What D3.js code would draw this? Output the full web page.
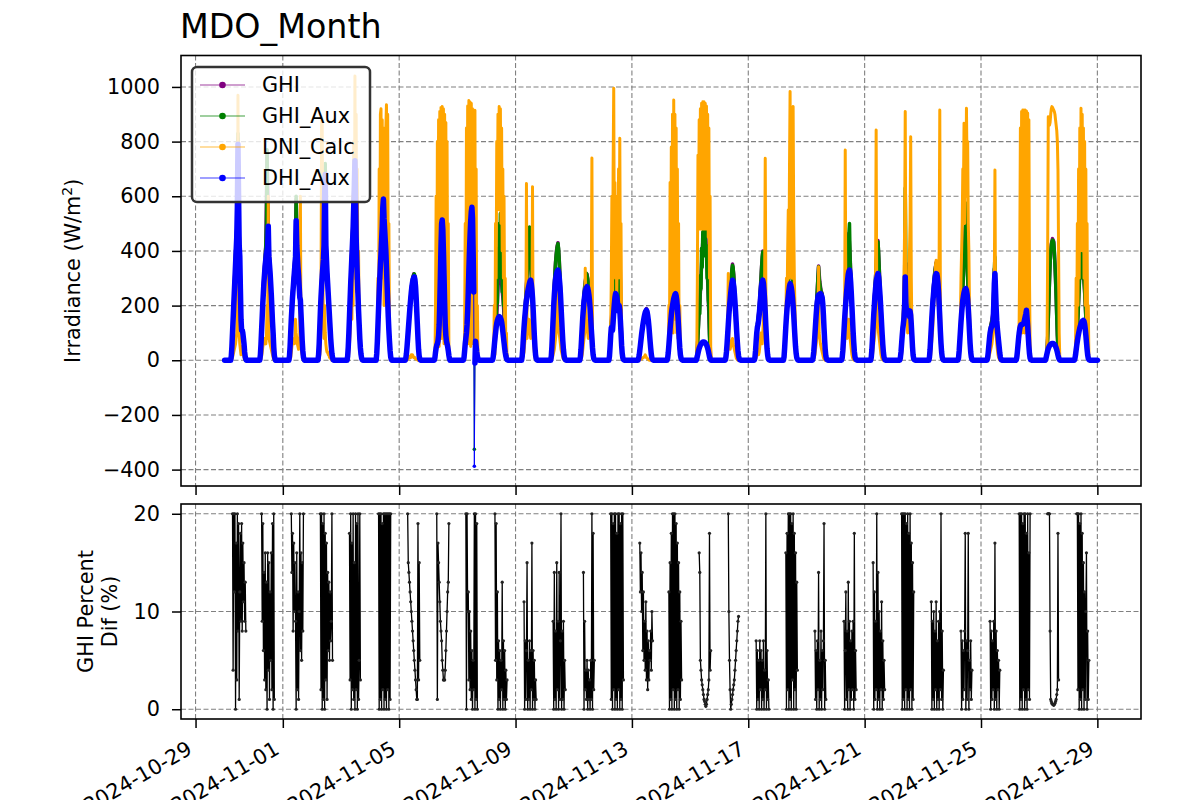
<!DOCTYPE html>
<meta charset="utf-8">
<script src="https://d3js.org/d3.v7.min.js"></script>
<style>
  body { margin: 0; background: #fff; }
  text { font-family: "DejaVu Sans", sans-serif; fill: #000; }
</style>
<div id="my_dataviz"></div>
<script>

// ---- data ----
const dayStarts = ["2024-10-30","2024-10-31","2024-11-01","2024-11-02","2024-11-03","2024-11-04","2024-11-05","2024-11-06","2024-11-07","2024-11-08",
  "2024-11-09","2024-11-10","2024-11-11","2024-11-12","2024-11-13","2024-11-14","2024-11-15","2024-11-16","2024-11-17","2024-11-18",
  "2024-11-19","2024-11-20","2024-11-21","2024-11-22","2024-11-23","2024-11-24","2024-11-25","2024-11-26","2024-11-27","2024-11-28"];
// sample hours (UTC) within each day
const halfHours = [5,5.5,6,6.5,7,7.5,8,8.5,9,9.5,10,10.5,11,11.5,12,12.5,13,13.5,14,14.5,15,15.5,16,16.5,17,17.5,18];
const hours = [5,6,7,8,9,10,11,12,13,14,15,16,17,18];
const firstStamp = "2024-10-30T00:00:00Z", lastStamp = "2024-11-29T00:00:00Z", nightValue = 0;

const xTicks = ["2024-10-29","2024-11-01","2024-11-05","2024-11-09","2024-11-13","2024-11-17","2024-11-21","2024-11-25","2024-11-29"];
const irrTicks = [-400,-200,0,200,400,600,800,1000];
const pctTicks = [0,10,20];
const seriesNames = ["GHI","GHI_Aux","DNI_Calc","DHI_Aux"];

// GHI, hourly
const ghi = [
  [0,54,165,275,395,485,810,470,295,120,108,64,12,0],
  [0,65,173,275,350,425,760,505,375,290,198,104,18,0],
  [0,54,163,250,315,380,590,410,325,245,183,74,12,0],
  [0,65,193,295,375,475,710,395,295,208,124,52,10,0],
  [0,54,173,305,415,525,710,655,390,248,134,46,8,0],
  [0,74,204,325,425,525,625,505,415,288,164,72,12,0],
  [0,27,86,150,213,264,300,316,308,239,135,42,5,0],
  [0,32,57,73,134,315,505,485,315,134,73,52,18,0],
  [0,38,92,173,365,525,565,575,415,210,74,31,6,0],
  [0,36,52,112,212,312,355,305,255,205,112,41,6,0],
  [0,48,127,198,275,355,425,405,315,238,147,52,6,0],
  [0,53,163,278,360,410,430,375,268,162,72,18,2,0],
  [0,43,130,213,268,305,315,285,231,160,82,20,2,0],
  [0,56,143,205,305,335,285,245,255,455,153,26,3,0],
  [0,19,58,99,133,160,181,189,171,129,72,22,3,0],
  [0,30,91,153,204,235,265,255,228,165,82,20,3,0],
  [0,42,140,200,300,400,470,480,450,350,230,95,6,0],
  [0,33,104,183,250,310,352,315,233,148,67,15,2,0],
  [0,38,110,148,193,265,345,400,285,183,82,18,2,0],
  [0,49,138,219,315,455,405,325,249,148,56,10,1,0],
  [0,33,104,183,265,345,287,256,244,171,77,15,2,0],
  [0,38,120,204,285,365,465,385,259,158,67,13,2,0],
  [0,44,138,224,305,390,438,345,234,138,58,11,1,0],
  [0,34,102,163,305,355,233,213,193,203,97,18,2,0],
  [0,44,132,219,285,330,358,337,262,161,64,12,1,0],
  [0,38,117,193,270,355,485,560,315,168,65,12,1,0],
  [0,33,88,127,148,178,335,290,158,97,50,11,1,0],
  [0,33,90,127,143,143,148,163,183,163,90,24,2,0],
  [0,10,81,223,355,425,445,435,355,233,91,10,0,0],
  [0,26,82,163,270,375,385,305,290,208,107,26,3,0]
];

// GHI_Aux, every 30 min
const ghiAux = [
  [0,16,52,105,160,215,270,330,390,440,480,620,830,650,460,410,290,160,115,115,105,82,62,31,12,3,0],
  [0,21,63,115,170,225,270,310,345,380,420,500,770,440,500,400,370,330,285,245,195,145,102,52,18,5,0],
  [0,16,52,105,160,200,245,280,310,340,375,420,600,450,400,350,320,280,240,230,180,125,72,36,12,3,0],
  [0,21,63,125,190,245,290,335,370,410,470,650,720,450,390,335,290,250,205,165,122,82,51,25,10,2,0],
  [0,16,52,105,170,235,300,355,410,460,520,620,700,780,650,470,385,310,245,182,132,81,45,22,8,2,0],
  [0,26,72,135,200,265,320,375,420,470,520,600,620,550,500,455,410,350,285,225,162,111,71,35,12,3,0],
  [0,8,26,52,84,116,147,178,209,235,260,281,296,306,313,316,305,279,236,184,133,82,41,15,5,1,0],
  [0,10,31,46,56,62,72,92,132,212,312,422,502,515,482,402,312,212,132,92,72,62,51,35,18,5,0],
  [0,10,37,65,90,120,170,260,360,460,520,580,560,560,570,530,410,250,-326,-5,72,52,31,15,6,2,0],
  [0,12,35,70,50,160,110,260,210,410,310,500,350,537,300,450,250,350,200,250,110,80,40,20,6,2,0],
  [0,16,47,88,125,160,195,230,270,310,350,380,420,488,400,350,310,270,235,195,145,92,51,20,6,2,0],
  [0,16,52,105,160,220,275,320,355,385,405,420,427,410,370,320,265,210,160,113,71,40,18,7,2,1,0],
  [0,13,42,84,128,172,210,240,265,285,300,318,310,300,280,255,228,195,158,117,81,45,20,7,2,1,0],
  [0,16,55,100,140,155,200,250,300,320,330,300,280,260,240,230,250,300,464,250,150,60,25,9,3,1,0],
  [0,6,19,36,57,77,97,115,131,145,158,169,178,183,186,181,168,150,127,99,71,44,22,8,3,1,0],
  [0,8,29,57,89,122,150,178,200,215,230,250,260,255,250,240,224,198,162,121,81,45,20,8,3,1,0],
  [0,10,40,90,130,200,170,310,260,410,340,470,400,488,420,480,380,420,300,330,220,200,90,30,5,0,0],
  [0,11,32,64,102,140,180,215,245,275,305,332,348,340,310,270,230,190,145,102,66,35,15,6,2,1,0],
  [0,11,37,74,108,130,145,165,190,220,260,300,340,380,397,335,280,230,180,128,81,42,18,6,2,1,0],
  [0,13,48,92,135,175,215,260,310,400,450,574,400,350,320,285,245,200,145,95,55,26,10,4,1,0,0],
  [0,11,32,64,102,140,180,220,260,305,342,300,282,265,252,245,240,212,168,120,76,38,15,5,2,1,0],
  [0,11,37,74,118,160,200,240,280,320,360,410,460,500,380,310,255,205,155,107,66,33,13,5,2,1,0],
  [0,13,43,86,135,180,220,260,300,345,385,420,433,400,340,280,230,180,135,93,57,28,11,4,1,0,0],
  [0,11,33,66,100,130,160,210,300,630,350,250,230,220,210,200,190,240,200,145,95,48,18,6,2,1,0],
  [0,13,43,86,130,175,215,250,280,305,325,342,354,350,332,300,258,210,158,107,63,30,12,4,1,0,0],
  [0,11,37,75,115,155,190,225,265,300,350,400,480,500,574,400,310,230,165,110,64,30,12,4,1,0,0],
  [0,11,32,58,86,110,125,135,145,155,175,250,330,378,285,210,155,120,95,72,49,26,11,4,1,0,0],
  [0,11,32,60,88,110,125,135,140,141,141,142,145,150,160,170,180,190,160,128,89,52,24,8,2,1,0],
  [0,0,10,30,80,150,220,290,350,400,420,435,440,438,430,400,350,300,230,160,90,40,10,2,0,0,0],
  [0,8,25,50,80,115,160,210,265,320,370,400,380,350,300,340,285,255,205,155,105,62,26,9,3,1,0]
];

// DNI_Calc, every 30 min
const dniCalc = [
  [0,0,5,10,20,30,40,50,60,80,100,200,970,300,100,60,40,20,30,50,30,20,10,5,0,0,0],
  [0,0,5,15,30,50,60,70,80,70,60,90,200,80,600,100,70,60,50,40,30,20,10,5,0,0,0],
  [0,0,5,10,30,50,70,60,80,60,70,150,100,80,60,50,40,60,90,600,50,30,20,10,0,0,0],
  [0,0,10,20,40,200,880,860,300,150,80,200,100,60,40,30,30,20,20,10,10,5,3,0,0,0,0],
  [0,0,10,30,60,100,200,400,150,600,200,800,300,1040,400,900,250,700,150,400,80,50,20,5,0,0,0],
  [0,0,50,300,100,700,200,900,920,500,880,300,850,200,800,400,850,935,700,900,300,500,100,50,10,0,0],
  [0,0,0,2,5,5,10,10,15,10,20,15,20,15,10,10,10,5,5,3,2,0,0,0,0,0,0],
  [0,0,200,600,50,800,100,880,50,910,100,925,80,928,100,920,60,900,100,870,50,800,200,500,50,0,0],
  [0,0,100,500,80,850,100,930,60,950,80,945,50,940,100,920,60,880,100,915,50,700,30,200,10,0,0],
  [0,0,30,200,20,500,300,800,550,900,600,928,550,920,500,850,400,700,300,600,150,300,20,100,0,0,0],
  [0,0,10,20,30,60,80,100,647,80,120,100,150,120,100,80,100,120,635,100,60,30,10,5,0,0,0],
  [0,0,5,10,20,30,40,60,80,100,200,300,150,120,100,80,60,40,30,20,10,5,2,0,0,0,0],
  [0,0,5,10,20,40,60,80,100,337,200,150,120,100,80,100,150,200,150,250,740,100,30,10,0,0,0],
  [0,0,20,100,300,600,200,700,995,400,650,300,600,200,500,300,700,400,812,300,500,100,30,10,0,0,0],
  [0,0,0,2,3,5,5,8,10,10,12,15,20,15,10,8,5,3,2,0,0,0,0,0,0,0,0],
  [0,0,30,200,50,650,100,780,200,900,100,952,300,900,150,850,100,700,80,500,40,200,20,5,0,0,0],
  [0,0,300,750,480,880,480,920,480,940,480,946,480,946,480,940,480,930,480,900,450,850,300,600,50,0,0],
  [0,0,5,20,100,317,80,60,40,50,60,70,80,60,50,40,30,20,10,5,3,0,0,0,0,0,0],
  [0,0,5,10,20,40,30,20,30,50,80,100,80,60,100,150,200,300,739,250,100,40,10,5,0,0,0],
  [0,0,10,50,150,300,200,400,550,300,700,983,400,600,300,800,928,500,300,200,100,50,20,5,0,0,0],
  [0,0,5,10,20,40,60,80,100,150,342,100,80,60,50,40,30,20,10,5,2,0,0,0,0,0,0],
  [0,0,5,20,50,100,769,200,100,80,100,120,150,100,80,60,40,20,10,5,2,0,0,0,0,0,0],
  [0,0,5,20,40,60,80,100,300,842,200,150,120,100,80,60,40,20,10,5,2,0,0,0,0,0,0],
  [0,0,5,20,50,100,200,300,500,910,300,200,150,100,200,300,400,500,818,300,100,40,10,5,0,0,0],
  [0,0,5,20,50,80,100,150,200,250,300,350,366,300,250,200,300,400,916,200,100,40,10,5,0,0,0],
  [0,0,20,80,150,300,400,500,700,600,867,500,700,600,922,700,800,500,400,200,100,50,10,5,0,0,0],
  [0,0,5,10,20,30,40,50,60,80,100,200,300,696,200,100,60,40,20,10,5,0,0,0,0,0,0],
  [0,0,5,20,60,150,400,850,200,910,100,916,150,916,100,916,150,912,100,905,200,880,300,60,10,0,0],
  [0,0,0,50,400,891,880,860,870,900,920,928,925,920,915,910,900,880,860,840,800,700,400,100,10,0,0],
  [0,0,50,300,100,500,200,700,300,850,400,922,500,900,400,850,300,800,200,700,100,500,50,200,10,0,0]
];

// DHI_Aux, every 30 min
const dhiAux = [
  [0,15,50,100,150,200,250,300,350,400,450,560,790,600,420,380,260,150,110,110,100,80,60,30,12,3,0],
  [0,20,60,110,160,210,250,290,320,350,370,390,400,420,490,380,350,320,280,240,190,140,100,50,18,5,0],
  [0,15,50,100,150,190,230,260,290,320,350,380,510,420,380,340,310,270,230,220,170,120,70,35,12,3,0],
  [0,20,60,120,180,230,270,310,340,370,420,600,680,420,370,320,280,240,200,160,120,80,50,25,10,2,0],
  [0,15,50,100,160,220,280,330,380,430,480,560,640,730,600,450,370,300,240,180,130,80,45,22,8,2,0],
  [0,25,70,130,190,250,300,350,390,440,490,560,590,520,480,440,400,340,280,220,160,110,70,35,12,3,0],
  [0,8,25,50,80,110,140,170,200,225,250,270,285,295,302,305,295,270,230,180,130,80,40,15,5,1,0],
  [0,10,30,45,55,60,70,90,130,210,310,420,500,513,480,400,310,210,130,90,70,60,50,35,18,5,0],
  [0,10,35,60,80,100,130,180,250,330,400,460,510,545,560,520,400,250,-388,-10,70,50,30,15,6,2,0],
  [0,10,30,55,80,100,120,135,145,152,157,160,158,155,150,140,125,105,85,65,45,28,15,6,2,1,0],
  [0,15,45,85,120,150,175,200,220,235,250,262,272,282,290,293,280,260,230,190,140,90,50,20,6,2,0],
  [0,15,50,100,150,200,240,270,295,310,320,327,330,322,305,280,245,200,155,110,70,40,18,7,2,1,0],
  [0,12,40,80,120,160,190,215,235,250,260,266,269,265,255,240,220,190,155,115,80,45,20,7,2,1,0],
  [0,15,50,90,120,110,110,140,175,205,230,244,240,232,215,195,180,200,185,145,100,55,25,9,3,1,0],
  [0,6,18,35,55,75,95,112,128,142,155,166,175,180,183,178,165,148,125,98,70,44,22,8,3,1,0],
  [0,8,28,55,85,115,140,165,185,200,213,225,233,240,244,236,220,195,160,120,80,45,20,8,3,1,0],
  [0,5,15,25,35,44,50,55,59,62,65,67,67,67,66,64,61,57,51,44,35,24,13,5,1,0,0],
  [0,10,30,60,95,130,165,195,220,245,265,282,293,287,270,245,215,180,140,100,65,35,15,6,2,1,0],
  [0,10,35,70,100,120,130,145,165,190,220,250,272,286,293,282,255,220,175,125,80,42,18,6,2,1,0],
  [0,12,45,85,125,160,190,215,235,255,270,280,276,266,250,228,200,165,125,85,50,25,10,4,1,0,0],
  [0,10,30,60,95,130,165,195,215,232,240,241,242,244,240,236,228,205,165,118,75,38,15,5,2,1,0],
  [0,10,35,70,110,150,185,215,245,270,295,315,325,330,315,285,245,200,150,105,65,33,13,5,2,1,0],
  [0,12,40,80,125,165,200,235,262,283,300,310,317,305,280,250,215,175,132,92,56,28,11,4,1,0,0],
  [0,10,30,60,90,115,135,155,200,305,210,180,182,183,180,172,160,180,165,130,90,48,18,6,2,1,0],
  [0,12,40,80,120,160,195,225,252,275,295,310,317,316,305,282,250,205,155,105,62,30,12,4,1,0,0],
  [0,10,35,70,105,140,170,197,220,236,248,256,260,262,256,243,222,190,150,105,62,30,12,4,1,0,0],
  [0,10,30,55,80,100,112,120,125,130,140,200,280,317,255,190,145,115,92,70,48,26,11,4,1,0,0],
  [0,10,30,55,80,100,115,125,130,131,131,132,135,140,150,160,170,183,155,125,88,52,24,8,2,1,0],
  [0,5,15,25,35,42,48,53,56,58,60,61,61,61,60,58,55,51,45,38,29,19,10,4,1,0,0],
  [0,6,20,38,55,70,85,97,108,118,126,133,139,143,145,146,142,132,115,92,66,40,19,7,2,1,0]
];

// GHI percent difference (%), every 30 min, null = no value
const pctDif = [
  [null,null,null,20,4,20,12,20,0,17,3,20,8,19,1,12,18,9,19,8,17,11,15,9,13,8,null],
  [null,null,null,20,9,19,6,14,3,16,2,13,0,16,4,15,1,12,5,16,2,19,0,20,1,null,null],
  [null,null,null,null,20,14,18,8,17,10,15,9,0,16,2,12,1,10,20,6,16,5,15,8,20,null,null],
  [null,null,null,null,20,2,20,0,19,1,20,0,18,3,17,1,14,6,13,5,12,7,9,20,5,null,null],
  [null,null,null,null,18,3,20,0,17,2,20,1,15,0,20,2,19,0,20,1,5,20,3,null,null,null,null],
  [null,null,null,null,20,0,20,1,20,0,19,2,20,0,20,1,20,0,20,2,20,0,20,1,20,null,null],
  [null,null,null,null,20,15,14,13,12,11,10,9,8,7,6,5,4,3,2,1,1,19,3,15,5,null,null],
  [null,null,null,null,20,1,17,15,13,11,9,8,7,5,4,3,3,3,4,6,8,10,12,13,19,null,null],
  [null,null,null,null,20,0,20,10,12,3,10,2,8,1,6,0,5,2,20,0,20,1,19,0,null,null,null],
  [null,null,null,null,20,5,19,3,12,0,7,1,6,0,5,2,13,0,7,1,6,0,4,1,3,null,null],
  [null,null,null,null,11,0,7,1,6,15,0,5,1,7,0,6,2,17,0,6,1,5,0,3,1,null,null],
  [null,null,null,null,9,0,14,1,8,0,15,2,9,0,14,1,7,20,0,8,1,9,0,5,2,null,null],
  [null,null,null,null,null,null,14,0,9,2,4,1,5,0,4,1,3,0,5,1,20,0,18,2,5,null,null],
  [null,null,null,20,1,20,0,19,2,20,0,20,1,18,0,20,2,20,0,19,1,20,0,20,3,null,null],
  [null,null,null,17,12,16,10,14,6,12,5,9,4,11,3,8,2,7,3,6,5,8,4,10,7,null,null],
  [null,null,null,12,0,15,1,18,0,20,2,20,0,20,1,19,0,17,2,15,0,12,1,9,3,null,null],
  [null,null,null,null,null,16,14,5,4,3,2.5,2,1.5,1,0.8,0.5,0.3,0.5,1,1.5,2,3,18,4,6,null,null],
  [null,null,null,null,null,20,10,5,2,0,0.5,1,1.5,2,2.5,3,4,5,6,7,8,9,9.5,null,null,null,null],
  [null,null,null,7,0,6,1,5,0,7,2,6,0,5,1,7,0,4,2,20,0,6,1,3,0,null,null],
  [null,null,null,null,16,0,18,2,20,0,20,1,20,0,19,3,20,0,18,2,16,0,13,4,null,null,null],
  [null,null,null,null,8,1,6,0,7,2,14,0,5,1,8,0,6,2,7,19,0,5,1,null,null,null,null],
  [null,null,null,null,9,0,6,12,1,8,0,13,2,9,0,7,1,8,2,9,0,18,1,6,2,null,null],
  [null,null,null,null,15,0,12,1,9,2,20,0,14,1,10,0,8,2,11,0,7,1,5,2,null,null,null],
  [null,null,null,20,0,20,1,20,0,20,2,19,0,20,1,18,0,20,2,17,0,15,1,12,null,null,null],
  [null,null,null,null,11,0,9,1,10,0,8,2,11,0,7,1,9,0,10,2,20,1,8,0,4,null,null],
  [null,null,null,null,null,8,0,7,1,6,2,8,18,0,7,1,6,18,0,5,2,7,1,4,null,null,null],
  [null,null,null,null,null,9,0,8,1,7,2,9,0,17,1,8,0,6,2,5,0,4,null,null,null,null,null],
  [null,null,null,null,null,20,0,20,1,20,0,19,2,20,0,20,1,18,0,20,2,16,1,20,null,null,null],
  [null,null,null,null,20,20,20,20,8,1,0.8,0.6,0.5,0.5,0.4,0.5,0.6,0.8,1,1.5,2,18,3,null,null,null,null],
  [null,null,null,null,20,20,2,20,0,19,1,20,0,18,2,15,0,12,1,10,16,0,8,1,5,null,null]
];

// ---- layout ----
const W = 1200, H = 800;
const plotL = 181, plotR = 1141;
const top1 = 55.5, bot1 = 486;
const top2 = 504, bot2 = 719;
const style = {
  GHI:      { color: "purple", width: 3.5 },
  GHI_Aux:  { color: "green",  width: 3.5 },
  DNI_Calc: { color: "orange", width: 3 },
  DHI_Aux:  { color: "blue",   width: 5.5 }
};
const outlierFloor = -100;   // points below this get only the thin line

const svg = d3.select("#my_dataviz").append("svg")
  .attr("width", W).attr("height", H);

const x = d3.scaleUtc()
  .domain([new Date("2024-10-28T12:00:00Z"), new Date("2024-11-30T12:00:00Z")])
  .range([plotL, plotR]);
const y1 = d3.scaleLinear().domain([-460, 1115]).range([bot1, top1]);
const y2 = d3.scaleLinear().domain([-1, 21]).range([bot2, top2]);

const dayTime = s => new Date(s + "T00:00:00Z").getTime();
const tickDates = xTicks.map(s => new Date(s + "T00:00:00Z"));

function buildSeries(byDay, grid) {
  const pts = [{ t: new Date(firstStamp), v: nightValue }];
  byDay.forEach((vals, d) => {
    const base = dayTime(dayStarts[d]);
    vals.forEach((v, i) => pts.push({ t: new Date(base + grid[i] * 3600e3), v: v }));
  });
  pts.push({ t: new Date(lastStamp), v: nightValue });
  return pts;
}
function buildPct(byDay, grid) {
  const pts = [];
  byDay.forEach((vals, d) => {
    const base = dayTime(dayStarts[d]);
    vals.forEach((v, i) => pts.push({ t: new Date(base + grid[i] * 3600e3), v: v }));
    pts.push({ t: new Date(base + 20 * 3600e3), v: null });
  });
  return pts;
}

const series = [
  { name: "GHI", pts: buildSeries(ghi, hours) },
  { name: "GHI_Aux", pts: buildSeries(ghiAux, halfHours) },
  { name: "DNI_Calc", pts: buildSeries(dniCalc, halfHours) },
  { name: "DHI_Aux", pts: buildSeries(dhiAux, halfHours) }
];
const pctPts = buildPct(pctDif, halfHours);

// clip paths
const defs = svg.append("defs");
defs.append("clipPath").attr("id", "clip1").append("rect")
  .attr("x", plotL).attr("y", top1).attr("width", plotR - plotL).attr("height", bot1 - top1);
defs.append("clipPath").attr("id", "clip2").append("rect")
  .attr("x", plotL).attr("y", top2).attr("width", plotR - plotL).attr("height", bot2 - top2);

// grids
function grid(yScale, yTicks, yTop, yBot) {
  const g = svg.append("g").attr("stroke", "#808080").attr("stroke-width", 1.1)
    .attr("stroke-dasharray", "5,2.5").attr("fill", "none");
  g.selectAll("line.gx").data(tickDates).join("line").attr("class", "gx")
    .attr("x1", d => x(d)).attr("x2", d => x(d)).attr("y1", yTop).attr("y2", yBot);
  g.selectAll("line.gy").data(yTicks).join("line").attr("class", "gy")
    .attr("x1", plotL).attr("x2", plotR).attr("y1", d => yScale(d)).attr("y2", d => yScale(d));
}
grid(y1, irrTicks, top1, bot1);
grid(y2, pctTicks, top2, bot2);

// irradiance lines: a thin line through every point, a thick one (dense markers look) through the rest
const thinLine = d3.line().x(d => x(d.t)).y(d => y1(d.v));
const thickLine = d3.line().defined(d => d.v > outlierFloor).x(d => x(d.t)).y(d => y1(d.v));
const gData = svg.append("g").attr("clip-path", "url(#clip1)");
series.forEach(s => {
  const c = style[s.name].color;
  gData.append("path").datum(s.pts)
    .attr("fill", "none").attr("stroke", c).attr("stroke-width", 1)
    .attr("d", thinLine);
  gData.append("path").datum(s.pts)
    .attr("fill", "none").attr("stroke", c)
    .attr("stroke-width", style[s.name].width)
    .attr("stroke-linejoin", "round").attr("stroke-linecap", "round")
    .attr("d", thickLine);
  gData.selectAll(null).data(s.pts.filter(d => d.v <= outlierFloor)).join("circle")
    .attr("cx", d => x(d.t)).attr("cy", d => y1(d.v)).attr("r", 1.8).attr("fill", c);
});

// percent dif
const line2 = d3.line().defined(d => d.v !== null).x(d => x(d.t)).y(d => y2(d.v));
const gPct = svg.append("g").attr("clip-path", "url(#clip2)");
gPct.append("path").datum(pctPts)
  .attr("fill", "none").attr("stroke", "#000").attr("stroke-width", 1.3)
  .attr("d", line2);
gPct.selectAll("circle").data(pctPts.filter(d => d.v !== null)).join("circle")
  .attr("cx", d => x(d.t)).attr("cy", d => y2(d.v)).attr("r", 1.6)
  .attr("fill", "#222");

// axes
const fs = "20.8px";
function yAxis(scale, ticks) {
  const g = svg.append("g").attr("transform", `translate(${plotL},0)`)
    .call(d3.axisLeft(scale).tickValues(ticks).tickSize(9).tickPadding(12).tickFormat(d3.format("d")));
  g.select(".domain").remove();
  g.selectAll(".tick line").attr("stroke", "#000").attr("stroke-width", 1.5);
  g.selectAll(".tick text").style("font-size", fs).style("font-family", "DejaVu Sans").attr("fill", "#000");
  return g;
}
yAxis(y1, irrTicks);
yAxis(y2, pctTicks);

const xa1 = svg.append("g").attr("transform", `translate(0,${bot1})`)
  .call(d3.axisBottom(x).tickValues(tickDates).tickSize(9).tickFormat(""));
xa1.select(".domain").remove();
xa1.selectAll(".tick line").attr("stroke", "#000").attr("stroke-width", 1.5);

const xa2 = svg.append("g").attr("transform", `translate(0,${bot2})`)
  .call(d3.axisBottom(x).tickValues(tickDates).tickSize(9).tickFormat(d3.utcFormat("%Y-%m-%d")));
xa2.select(".domain").remove();
xa2.selectAll(".tick line").attr("stroke", "#000").attr("stroke-width", 1.5);
xa2.selectAll(".tick text")
  .style("font-size", fs).style("font-family", "DejaVu Sans").attr("fill", "#000")
  .attr("text-anchor", "end")
  .attr("y", 0).attr("dy", "0.72em")
  .attr("transform", "translate(-10,21) rotate(-30)");

// frames
[[top1, bot1], [top2, bot2]].forEach(([t, b]) => {
  svg.append("rect").attr("x", plotL).attr("y", t).attr("width", plotR - plotL).attr("height", b - t)
    .attr("fill", "none").attr("stroke", "#000").attr("stroke-width", 1.6);
});

// legend
const lg = svg.append("g");
lg.append("rect").attr("x", 192).attr("y", 67).attr("width", 178).attr("height", 135)
  .attr("rx", 5).attr("fill", "#fff").attr("fill-opacity", 0.8)
  .attr("stroke", "#333").attr("stroke-width", 2.5);
seriesNames.forEach((n, k) => {
  const yy = 85 + k * 31;
  lg.append("line").attr("x1", 200).attr("x2", 245).attr("y1", yy).attr("y2", yy)
    .attr("stroke", style[n].color).attr("stroke-width", 1.2).attr("stroke-opacity", 0.75);
  lg.append("circle").attr("cx", 222.5).attr("cy", yy).attr("r", 3.3).attr("fill", style[n].color);
  lg.append("text").attr("x", 262).attr("y", yy).attr("dy", "0.36em")
    .style("font-size", fs).text(n);
});

// titles and labels
svg.append("text").attr("x", 180).attr("y", 38).style("font-size", "33.3px").text("MDO_Month");
svg.append("text")
  .attr("transform", `translate(80,${(top1 + bot1) / 2}) rotate(-90)`)
  .attr("text-anchor", "middle").style("font-size", fs)
  .html('Irradiance (W/m<tspan dy="-8" font-size="14px">2</tspan><tspan dy="8">)</tspan>');
const yl2 = svg.append("text")
  .attr("transform", `translate(0,${(top2 + bot2) / 2}) rotate(-90)`)
  .attr("text-anchor", "middle").style("font-size", fs);
yl2.append("tspan").attr("x", 0).attr("y", 93).text("GHI Percent");
yl2.append("tspan").attr("x", 0).attr("y", 117).text("Dif (%)");

</script>
